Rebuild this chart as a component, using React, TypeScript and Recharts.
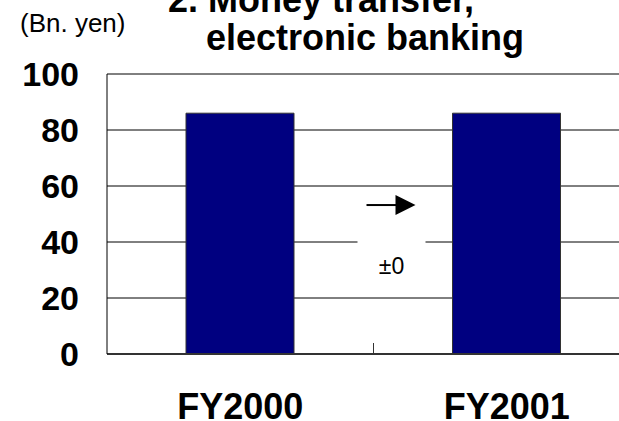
import React from 'react';
import { BarChart, Bar, XAxis, YAxis, CartesianGrid } from 'recharts';

// Balances, in billions of yen
const categories = ['FY2000', 'FY2001'];
const balances = [86, 86];
const yTicks = [0, 20, 40, 60, 80, 100];
const changeLabel = '±0';
const titleLines = ['2. Money transfer,', 'electronic banking'];
const unitLabel = '(Bn. yen)';

const data = categories.map((fy, i) => ({ fy, value: balances[i] }));

const FONT = '"Liberation Sans", Arial, Helvetica, sans-serif';

// chart is wider than the frame; the right part of the plot gets cut off
const CHART_W = 660;
const CHART_H = 421;
const MARGIN = { top: 74, right: 20, bottom: 0, left: 0 };
const Y_AXIS_W = 107;
const X_AXIS_H = 67;

const PLOT_LEFT = MARGIN.left + Y_AXIS_W;
const PLOT_RIGHT = CHART_W - MARGIN.right;
const PLOT_TOP = MARGIN.top;
const PLOT_BOTTOM = CHART_H - MARGIN.bottom - X_AXIS_H;
const BAND = (PLOT_RIGHT - PLOT_LEFT) / categories.length;

const yOf = (v: number) => PLOT_TOP + ((100 - v) / 100) * (PLOT_BOTTOM - PLOT_TOP);

const YTick = ({ y, payload }: any) => (
  <text
    x={79}
    y={y + 12}
    textAnchor="end"
    fontFamily={FONT}
    fontWeight="bold"
    fontSize={34}
    fill="#000"
  >
    {payload.value}
  </text>
);

const XTick = ({ x, payload }: any) => {
  const boundary = x + BAND / 2;
  const isLast = payload.index === categories.length - 1;
  return (
    <g>
      <text
        x={x}
        y={PLOT_BOTTOM + 65}
        textAnchor="middle"
        fontFamily={FONT}
        fontWeight="bold"
        fontSize={36}
        fill="#000"
      >
        {payload.value}
      </text>
      {!isLast && (
        <g>
          {/* tick between categories */}
          <line x1={boundary} x2={boundary} y1={PLOT_BOTTOM - 11} y2={PLOT_BOTTOM} stroke="#333" strokeWidth={1} />
          {/* year-on-year change note */}
          <rect x={boundary - 16} y={yOf(45)} width={68} height={yOf(22) - yOf(45)} fill="#fff" />
          <line x1={boundary - 7} x2={boundary + 24} y1={yOf(53.2)} y2={yOf(53.2)} stroke="#000" strokeWidth={2} />
          <polygon
            points={`${boundary + 22},${yOf(53.2) - 10} ${boundary + 42},${yOf(53.2)} ${boundary + 22},${yOf(53.2) + 10}`}
            fill="#000"
          />
          <text
            x={boundary + 18}
            y={yOf(28.5)}
            textAnchor="middle"
            fontFamily={FONT}
            fontSize={23}
            fill="#000"
          >
            {changeLabel}
          </text>
        </g>
      )}
    </g>
  );
};

export default function App() {
  return (
    <div
      style={{
        position: 'absolute',
        left: 0,
        top: 0,
        width: 619,
        height: 421,
        overflow: 'hidden',
        background: '#fff',
      }}
    >
      <BarChart width={CHART_W} height={CHART_H} data={data} margin={MARGIN}>
        <CartesianGrid horizontal vertical={false} stroke="#000" strokeOpacity={1} />
        <XAxis
          dataKey="fy"
          height={X_AXIS_H}
          axisLine={{ stroke: '#333', strokeWidth: 2 }}
          tickLine={false}
          tick={<XTick />}
          interval={0}
        />
        <YAxis
          width={Y_AXIS_W}
          domain={[0, 100]}
          ticks={yTicks}
          axisLine={{ stroke: '#000', strokeWidth: 1 }}
          tickLine={false}
          tick={<YTick />}
          interval={0}
        />
        <Bar dataKey="value" fill="#000080" stroke="#333" strokeWidth={1} barSize={108} isAnimationActive={false} />
      </BarChart>
      <svg
        width={619}
        height={80}
        style={{ position: 'absolute', left: 0, top: 0, pointerEvents: 'none' }}
      >
        <text x={20} y={32} fontFamily={FONT} fontSize={26} fill="#000">
          {unitLabel}
        </text>
        <text x={168} y={12} fontFamily={FONT} fontWeight="bold" fontSize={36} fill="#000">
          {titleLines[0]}
        </text>
        <text x={206} y={50} fontFamily={FONT} fontWeight="bold" fontSize={36} fill="#000">
          {titleLines[1]}
        </text>
      </svg>
    </div>
  );
}
